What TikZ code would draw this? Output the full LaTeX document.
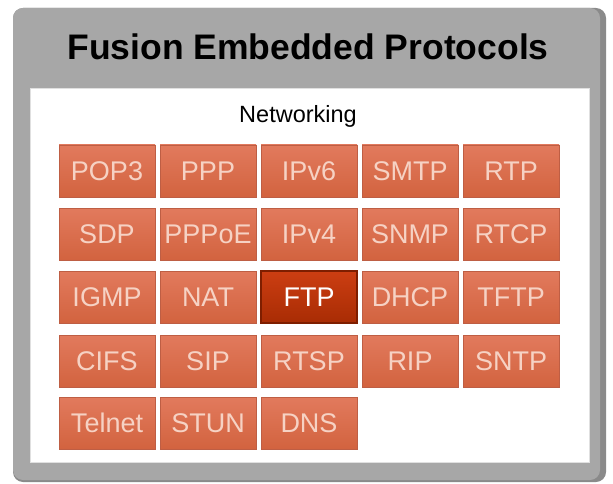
\documentclass[tikz,border=0pt]{standalone}
\usepackage{fontspec}
\setmainfont{Liberation Sans}
\definecolor{panelgray}{HTML}{A7A7A7}
\definecolor{paneledge}{HTML}{8A8A8A}
\definecolor{boxtop}{HTML}{E27A5D}
\definecolor{boxbot}{HTML}{D2633F}
\definecolor{boxline}{HTML}{BE5E44}
\definecolor{boxtext}{HTML}{F6D2C4}
\definecolor{ftptop}{HTML}{CC3E12}
\definecolor{ftpbot}{HTML}{A82C04}
\definecolor{ftpline}{HTML}{7E1E00}
\tikzset{
  proto/.style={rectangle, minimum width=96pt, minimum height=52pt, inner sep=0pt,
    top color=boxtop, bottom color=boxbot, draw=boxline, line width=0.5pt,
    text=boxtext, font=\fontsize{27}{27}\selectfont},
  ftpbox/.style={proto, top color=ftptop, bottom color=ftpbot, draw=ftpline,
    line width=1.2pt, text=white}
}
\begin{document}
\begin{tikzpicture}[x=1pt,y=-1pt]
    \useasboundingbox (0,0) rectangle (613,484);
    \fill[paneledge, rounded corners=10pt] (13,8) rectangle (606,482);
    \fill[panelgray, rounded corners=10pt] (13,8) rectangle (600,480);
    \fill[white, draw=black!12] (30,88) rectangle (589,462);
    \node (title) at (308,47) {\fontsize{35.5}{36}\selectfont\bfseries Fusion Embedded Protocols};
    \node (net) at (298,116) {\fontsize{23.5}{24}\selectfont Networking};
    \foreach \lbl [count=\i from 0] in {POP3,PPP,IPv6,SMTP,RTP}
        \node[proto] (\lbl) at (107+101*\i,171) {\lbl};
    \foreach \lbl [count=\i from 0] in {SDP,PPPoE,IPv4,SNMP,RTCP}
        \node[proto] (\lbl) at (107+101*\i,234) {\lbl};
    \foreach \lbl/\sty [count=\i from 0] in {IGMP/proto,NAT/proto,FTP/ftpbox,DHCP/proto,TFTP/proto}
        \node[\sty] (\lbl) at (107+101*\i,297) {\lbl};
    \foreach \lbl [count=\i from 0] in {CIFS,SIP,RTSP,RIP,SNTP}
        \node[proto] (\lbl) at (107+101*\i,361) {\lbl};
    \foreach \lbl [count=\i from 0] in {Telnet,STUN,DNS}
        \node[proto] (\lbl) at (107+101*\i,423) {\lbl};
\end{tikzpicture}
\end{document}
